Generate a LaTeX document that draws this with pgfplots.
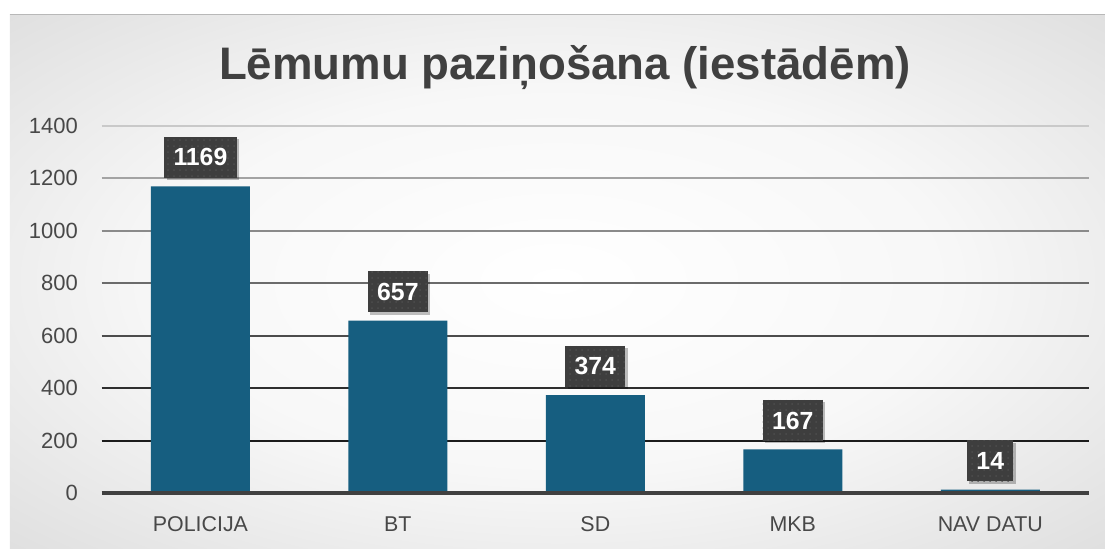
\documentclass[border=0pt]{standalone}
\usepackage{fontspec}
\setmainfont{Liberation Sans}
\usepackage{pgfplots}
\pgfplotsset{compat=1.18}
\usetikzlibrary{shadows,patterns}
\definecolor{barc}{RGB}{22,94,128}
\definecolor{axgray}{RGB}{64,64,64}
\definecolor{txtc}{RGB}{64,64,64}
\definecolor{tickc}{RGB}{72,72,72}
\definecolor{boxc}{RGB}{62,62,62}
\definecolor{dotc}{RGB}{78,78,78}
\pgfdeclareradialshading{bgshade}{\pgfpoint{0bp}{0bp}}{color(0bp)=(white); color(18bp)=(white!97!black); color(50bp)=(white!80!black); color(71bp)=(white!75!black)}
\begin{document}
\begin{tikzpicture}
\useasboundingbox[fill=white] (-50.85pt,-27.4pt) rectangle (501.65pt,246.6pt);
\shade[shading=bgshade] (-45.85pt,-27.4pt) rectangle (501.65pt,239.6pt);
\draw[white!72!black, line width=0.5pt] (-45.85pt,239.6pt) -- (501.65pt,239.6pt);
\node[anchor=base, font=\bfseries\fontsize{22.8}{27}\selectfont, text=txtc, inner sep=0pt] at (231.6pt,206.95pt) {Lēmumu paziņošana (iestādēm)};
\begin{axis}[
  at={(0pt,0pt)}, anchor=south west,
  scale only axis, width=493.65pt, height=183.75pt,
  xmin=-0.5, xmax=4.5, ymin=0, ymax=1400,
  clip=false,
  axis line style={draw=none},
  /pgf/number format/assume math mode=true,
  /pgf/number format/1000 sep={},
  xtick={0,1,2,3,4},
  xticklabels={POLICIJA,BT,SD,MKB,NAV DATU},
  x tick style={draw=none},
  xtick pos=bottom,
  extra x ticks={-0.5,0.5,1.5,2.5,3.5,4.5},
  extra x tick labels={},
  extra x tick style={tick style={draw=axgray, line width=1.2pt}, major tick length=3.8pt, tick align=outside},
  ytick={0,200,400,600,800,1000,1200,1400},
  y tick style={draw=none},
  yticklabel style={font=\fontsize{11}{13}\selectfont, text=tickc, anchor=east, inner sep=0pt, xshift=-11.7pt},
  xticklabel style={font=\fontsize{10.7}{13}\selectfont, text=tickc, anchor=base, inner sep=0pt, yshift=-18.9pt},
  nodes near coords,
  every node near coord/.append style={font=\bfseries\fontsize{12.4}{14}\selectfont, text=white, fill=boxc, inner xsep=4.7pt, inner ysep=0pt, minimum height=20.5pt, anchor=south, yshift=4pt, drop shadow={shadow xshift=1.2pt, shadow yshift=-1.2pt, opacity=0.25, fill=black}, postaction={pattern=dots, pattern color=dotc}},
]
\draw[color=white!79!black, line width=0.85pt] (axis cs:-0.5,1400) -- (axis cs:4.5,1400);
\draw[color=white!64!black, line width=0.85pt] (axis cs:-0.5,1200) -- (axis cs:4.5,1200);
\draw[color=white!54!black, line width=0.85pt] (axis cs:-0.5,1000) -- (axis cs:4.5,1000);
\draw[color=white!42!black, line width=0.85pt] (axis cs:-0.5,800) -- (axis cs:4.5,800);
\draw[color=white!30!black, line width=0.85pt] (axis cs:-0.5,600) -- (axis cs:4.5,600);
\draw[color=white!18!black, line width=0.85pt] (axis cs:-0.5,400) -- (axis cs:4.5,400);
\draw[color=white!11!black, line width=0.85pt] (axis cs:-0.5,200) -- (axis cs:4.5,200);
\addplot[ybar, bar width=49.5pt, fill=barc, draw=none] coordinates {(0,1169) (1,657) (2,374) (3,167) (4,14)};
\draw[axgray, line width=1.9pt] (axis cs:-0.5,0) -- (axis cs:4.5,0);
\end{axis}
\end{tikzpicture}
\end{document}
